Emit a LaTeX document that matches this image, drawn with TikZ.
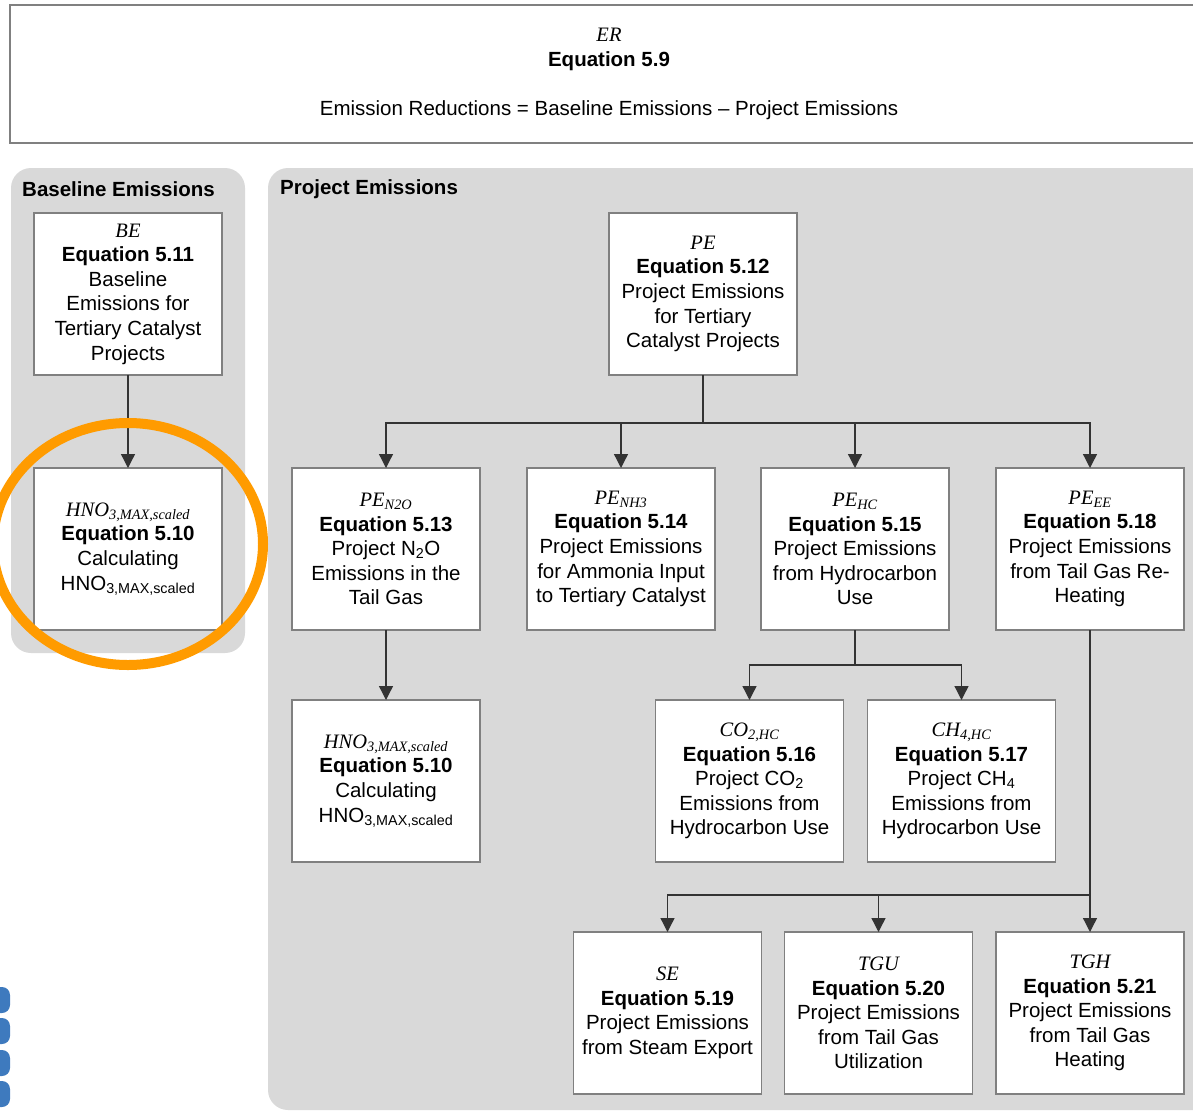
\documentclass[tikz,border=0pt]{standalone}
\usepackage{fontspec}
\setmainfont{Liberation Sans}
\newfontfamily\tnr{Liberation Serif}
\usetikzlibrary{positioning,arrows.meta}

\definecolor{panelgray}{RGB}{217,217,217}
\definecolor{boxline}{RGB}{128,128,128}
\definecolor{hilite}{RGB}{255,155,0}
\definecolor{tabblue}{RGB}{62,122,190}

% italic symbol above each equation
\newcommand{\var}[1]{{\tnr\itshape #1}}

\tikzset{
  eqbox/.style={rectangle,draw=boxline,line width=1.5pt,fill=white,outer sep=0pt,
    minimum width=188pt,minimum height=162pt,inner sep=2pt,align=center,
    font=\fontsize{20.5}{24.6}\selectfont},
  feed/.style={draw=black!80,line width=1.3pt,-{Triangle[width=14pt,length=14pt]}},
  panel/.style={fill=panelgray,rounded corners=20pt},
  paneltitle/.style={anchor=west,inner sep=0pt,font=\fontsize{20.5}{24.6}\selectfont\bfseries},
}

\begin{document}
\begin{tikzpicture}[x=1pt,y=-1pt]
\useasboundingbox (0,0) rectangle (1193,1111);
\clip (0,0) rectangle (1193,1111);

% result box
\node at (609,74) [rectangle,draw=boxline,line width=1.5pt,minimum width=1198pt,minimum height=138pt,
  align=center,font=\fontsize{20.5}{24.6}\selectfont] (er)
  {\var{ER}\\ \textbf{Equation 5.9}\\[24.6pt] Emission Reductions = Baseline Emissions -- Project Emissions};

% panels
\fill[panel] (11,168) rectangle (245,653);
\fill[panel] (268,168) rectangle (1230,1110);
\node[paneltitle] (betitle) at (22,189) {Baseline Emissions};
\node[paneltitle] (petitle) at (280,189) {Project Emissions};

% baseline side
\node at (128,294) [eqbox] (be) {\var{BE}\\ \textbf{Equation 5.11}\\ Baseline\\ Emissions for\\ Tertiary Catalyst\\ Projects};
\node [eqbox,below=93pt of be] (hnoA) {\var{HNO\textsubscript{3,MAX,scaled}}\\ \textbf{Equation 5.10}\\ Calculating\\ HNO\textsubscript{3,MAX,scaled}};

% project side
\node at (703,294) [eqbox] (pe) {\var{PE}\\ \textbf{Equation 5.12}\\ Project Emissions\\ for Tertiary\\ Catalyst Projects};
\node at (386,549) [eqbox] (n2o) {\var{PE\textsubscript{N2O}}\\ \textbf{Equation 5.13}\\ Project N\textsubscript{2}O\\ Emissions in the\\ Tail Gas};
\node [eqbox,right=47pt of n2o] (nh3) {\var{PE\textsubscript{NH3}}\\ \textbf{Equation 5.14}\\ Project Emissions\\ for Ammonia Input\\ to Tertiary Catalyst};
\node [eqbox,right=46pt of nh3] (hc) {\var{PE\textsubscript{HC}}\\ \textbf{Equation 5.15}\\ Project Emissions\\ from Hydrocarbon\\ Use};
\node [eqbox,right=47pt of hc] (ee) {\var{PE\textsubscript{EE}}\\ \textbf{Equation 5.18}\\ Project Emissions\\ from Tail Gas Re-\\ Heating};
\node [eqbox,below=70pt of n2o] (hnoB) {\var{HNO\textsubscript{3,MAX,scaled}}\\ \textbf{Equation 5.10}\\ Calculating\\ HNO\textsubscript{3,MAX,scaled}};
\node at (749.5,781) [eqbox] (co2) {\var{CO\textsubscript{2,HC}}\\ \textbf{Equation 5.16}\\ Project CO\textsubscript{2}\\ Emissions from\\ Hydrocarbon Use};
\node [eqbox,right=24pt of co2] (ch4) {\var{CH\textsubscript{4,HC}}\\ \textbf{Equation 5.17}\\ Project CH\textsubscript{4}\\ Emissions from\\ Hydrocarbon Use};
\node at (667.5,1013) [eqbox] (se) {\var{SE}\\ \textbf{Equation 5.19}\\ Project Emissions\\ from Steam Export};
\node [eqbox,right=23pt of se] (tgu) {\var{TGU}\\ \textbf{Equation 5.20}\\ Project Emissions\\ from Tail Gas\\ Utilization};
\node [eqbox,below=302pt of ee] (tgh) {\var{TGH}\\ \textbf{Equation 5.21}\\ Project Emissions\\ from Tail Gas\\ Heating};

% connectors
\draw[feed] (be) -- (hnoA);
\draw[feed] (n2o) -- (hnoB);
\foreach \t in {n2o,nh3,hc,ee}
  \draw[feed] (pe.south) -- ++(0,48) -| (\t.north);
\foreach \t in {co2,ch4}
  \draw[feed] (hc.south) -- ++(0,35) -| (\t.north);
\foreach \t in {se,tgu,tgh}
  \draw[feed] (ee.south) -- ++(0,265) -| (\t.north);

% highlight ring
\draw[hilite,line width=10pt] (128,544) ellipse [x radius=135, y radius=121];

% tabs at the left edge
\foreach \y in {987,1018,1050,1081}
  \fill[tabblue,rounded corners=8pt] (-20,\y) rectangle (10,\y+26);
\end{tikzpicture}
\end{document}
